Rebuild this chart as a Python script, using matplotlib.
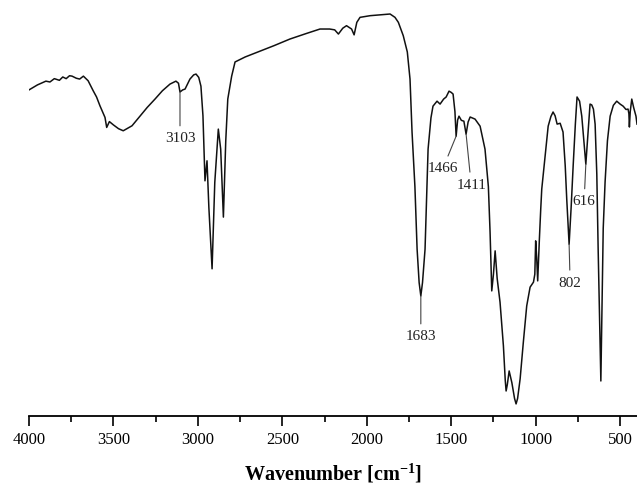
"""FTIR spectrum with labelled bands, redrawn from a figure."""
import numpy as np
import matplotlib
matplotlib.use('Agg')
import matplotlib.pyplot as plt
from matplotlib.ticker import MultipleLocator

plt.rcParams['font.family'] = ['Liberation Serif', 'DejaVu Serif']

# ── Spectrum (wavenumber cm-1, transmittance a.u.) ───────────────────────────
WN = [4000, 3950, 3900, 3876, 3850, 3820, 3800, 3780, 3760, 3745, 3720, 3700,
      3678, 3650, 3620, 3600, 3580, 3550, 3540, 3524, 3500, 3470, 3442,
      3390, 3343, 3300, 3254, 3210, 3165, 3130, 3115, 3106, 3090, 3076, 3047,
      3025, 3011, 2995, 2982, 2970, 2958, 2946, 2935, 2916, 2900, 2879, 2865,
      2849, 2835, 2823, 2800, 2780, 2720, 2632, 2550, 2455, 2360, 2277, 2220,
      2190, 2168, 2142, 2120, 2090, 2075, 2059, 2040, 1980, 1922, 1862, 1833,
      1813, 1784, 1760, 1744, 1732, 1715, 1702, 1690, 1680, 1670, 1655, 1637,
      1620, 1608, 1584, 1566, 1545, 1530, 1513, 1500, 1489, 1478, 1471, 1462,
      1454, 1440, 1425, 1412, 1400, 1388, 1359, 1329, 1300, 1280, 1270, 1260,
      1250, 1240, 1228, 1211, 1191, 1180, 1175, 1168, 1157, 1141, 1125, 1116,
      1107, 1092, 1073, 1053,
      1033, 1013, 1005, 1000, 994, 988, 978, 970, 964, 950, 926, 910, 897, 885,
      873, 855, 838, 825, 816, 802, 790, 778, 765, 755, 740, 727, 715, 703, 690,
      678, 668, 658, 648, 638, 630, 614, 606, 600, 589, 575, 559, 540, 520, 500,
      482, 465, 453, 448, 445, 440, 431, 420, 406, 400]
T = [78.2, 79.4, 80.3, 80.1, 80.9, 80.5, 81.3, 80.9, 81.6, 81.5, 81.0, 80.8,
     81.5, 80.4, 78.0, 76.5, 74.4, 71.6, 69.2, 70.6, 69.8, 68.9, 68.4,
     69.6, 71.9, 74.0, 76.0, 78.0, 79.6, 80.3, 79.8, 77.7, 78.2, 78.4, 80.8,
     81.8, 82.0, 81.2, 79.1, 72.0, 56.4, 61.2, 50.0, 35.3, 56.0, 68.8, 64.0,
     47.7, 66.0, 76.0, 81.5, 84.9, 86.1, 87.5, 88.8, 90.4, 91.7, 92.8, 92.8,
     92.6, 91.6, 93.0, 93.6, 92.8, 91.4, 94.4, 95.6, 96.0, 96.2, 96.4, 95.6,
     94.4, 91.2, 87.3, 80.8, 68.1, 55.0, 40.0, 32.0, 28.8, 32.0, 40.0, 64.0,
     71.5, 74.3, 75.5, 74.8, 76.0, 76.5, 77.9, 77.6, 77.2, 73.0, 67.1, 71.0,
     71.9, 70.9, 70.7, 67.6, 70.5, 71.7, 71.2, 69.5, 64.0, 55.0, 44.1, 30.0,
     34.0, 39.6, 33.0, 27.3, 16.8, 8.5, 6.0, 7.5, 10.8, 8.0, 4.2, 2.9,
     4.2, 8.9, 17.7, 26.4,
     30.9, 32.1, 34.0, 42.0, 38.0, 32.4, 42.4, 49.6, 54.4, 60.0, 69.5, 71.8,
     72.9, 72.0, 70.0, 70.2, 68.1, 60.0, 52.0, 41.2, 50.0, 60.0, 70.0, 76.5,
     75.5, 71.9, 66.0, 60.4, 68.0, 74.8, 74.6, 73.6, 70.0, 58.0, 40.0, 8.4,
     30.0, 45.0, 56.1, 66.0, 71.9, 74.5, 75.5, 74.8, 74.3, 73.5, 73.6, 72.5,
     69.3, 73.0, 76.0, 74.0, 71.9, 70.0]

# ── Band labels: (label, band position on the curve, label position) ─────────
LABELS    = ['3103', '1683', '1466', '1411', '616', '802']
BAND_WN   = [3106, 1680, 1471, 1412, 703, 802]
BAND_T    = [77.7, 28.8, 67.1, 67.6, 60.4, 41.2]
LABEL_WN  = [3106, 1680, 1548, 1382, 713, 796]
LABEL_T   = [66.7, 19.2, 59.5, 55.6, 51.6, 32.1]

XTICKS = [4000, 3500, 3000, 2500, 2000, 1500, 1000, 500]

# ── Plot ──────────────────────────────────────────────────────────────────────
fig = plt.figure(figsize=(6.37, 4.85), dpi=100)
ax = fig.add_axes([29 / 637, 1 - 417 / 485, 1 - 29 / 637, 417 / 485])

ax.plot(WN, T, color='#111111', lw=1.1)

for lab, bx, by, tx, ty in zip(LABELS, BAND_WN, BAND_T, LABEL_WN, LABEL_T):
    ax.annotate(lab, xy=(bx, by), xytext=(tx, ty), ha='center', va='center',
                fontsize=11, color='#222222',
                arrowprops=dict(arrowstyle='-', color='#444444', lw=0.8,
                                shrinkA=2, shrinkB=0))

ax.set_xlim(4000, 400)
ax.set_ylim(0, 100)
for side in ('top', 'left', 'right'):
    ax.spines[side].set_visible(False)
ax.spines['bottom'].set_linewidth(1.3)
ax.set_yticks([])
ax.set_xticks(XTICKS)
ax.xaxis.set_minor_locator(MultipleLocator(250))
ax.tick_params(axis='x', which='major', direction='out', length=7, width=1.2,
               labelsize=12, pad=4)
ax.tick_params(axis='x', which='minor', direction='out', length=4, width=1.2)
ax.patch.set_alpha(0)

fig.text(333 / 637, 1 - 473 / 485, 'Wavenumber [cm$^{\\mathregular{-1}}$]',
         ha='center', va='center', fontsize=14.5, fontweight='bold')

fig.savefig('out.png', dpi=100)
plt.close(fig)
